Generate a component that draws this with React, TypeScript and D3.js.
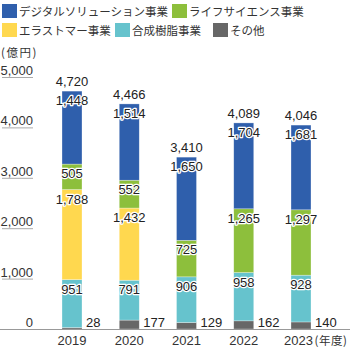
import { useEffect, useRef } from 'react';
import * as d3 from 'd3';

const years = ['2019', '2020', '2021', '2022', '2023'];
const seriesNames = ['その他', '合成樹脂事業', 'エラストマー事業', 'ライフサイエンス事業', 'デジタルソリューション事業'];
const other = [28, 177, 129, 162, 140];
const resin = [951, 791, 906, 958, 928];
const elastomer = [1788, 1432, 0, 0, 0];
const lifeScience = [505, 552, 725, 1265, 1297];
const digital = [1448, 1514, 1650, 1704, 1681];
const totals = [4720, 4466, 3410, 4089, 4046];
const yTicks = [0, 1000, 2000, 3000, 4000, 5000];

const colors = ['#676767', '#66c3cd', '#ffd84f', '#8dbf3c', '#2f5fac'];
const legendOrder = [4, 3, 2, 1, 0];

export default function App() {
  const ref = useRef<SVGSVGElement>(null);

  useEffect(() => {
    if (!ref.current) return;
    const svg = d3.select(ref.current);
    svg.selectAll('*').remove();

    const numFont = '"Liberation Sans", Arial, sans-serif';
    const jpFont = '"Noto Sans CJK JP", sans-serif';

    const x = d3.scalePoint<string>().domain(years).range([72, 301]);
    const y = d3.scaleLinear().domain([0, 5000]).range([329, 77]);
    const barW = 20;

    // legend
    const legendPos = [
      [2, 4], [172, 4], [2, 23], [115, 23], [213, 23],
    ];
    legendOrder.forEach((si, i) => {
      const [lx, ly] = legendPos[i];
      svg.append('rect').attr('x', lx).attr('y', ly).attr('width', 15).attr('height', 14).attr('fill', colors[si]);
      svg
        .append('text')
        .attr('x', lx + 17)
        .attr('y', ly + 11.5)
        .style('font-family', jpFont)
        .style('font-size', '11.5px')
        .style('fill', '#333')
        .text(seriesNames[si]);
    });

    svg
      .append('text')
      .attr('x', 1)
      .attr('y', 57)
      .style('font-family', jpFont)
      .style('font-size', '11.5px')
      .style('letter-spacing', '1.5px')
      .style('fill', '#333')
      .text('(億円)');

    // y ticks
    yTicks.forEach((t) => {
      if (t > 0) {
        svg
          .append('line')
          .attr('x1', 2)
          .attr('x2', 33)
          .attr('y1', y(t) + 0.5)
          .attr('y2', y(t) + 0.5)
          .attr('stroke', '#aaa')
          .attr('stroke-width', 1);
      }
      svg
        .append('text')
        .attr('x', 33)
        .attr('y', y(t) - 2)
        .attr('text-anchor', 'end')
        .style('font-family', numFont)
        .style('font-size', '13px')
        .style('fill', '#333')
        .text(d3.format(',')(t));
    });

    const data = [other, resin, elastomer, lifeScience, digital];
    const stack = d3
      .stack<number>()
      .keys(d3.range(5).map(String))
      .value((i, k) => data[+k][i]);
    const series = stack(d3.range(years.length));

    series.forEach((s, si) => {
      s.forEach((d, i) => {
        const v = data[si][i];
        if (!v) return;
        const cx = x(years[i]) as number;
        svg
          .append('rect')
          .attr('x', cx - barW / 2)
          .attr('y', y(d[1]))
          .attr('width', barW)
          .attr('height', y(d[0]) - y(d[1]))
          .attr('fill', colors[si])
          .attr('stroke', '#fff')
          .attr('stroke-opacity', 0.5)
          .attr('stroke-width', 0.6);
      });
    });

    // axis line
    svg.append('line').attr('x1', 0).attr('x2', 350).attr('y1', y(0) + 0.5).attr('y2', y(0) + 0.5).attr('stroke', '#999');

    // segment labels
    series.forEach((s, si) => {
      s.forEach((d, i) => {
        const v = data[si][i];
        if (!v) return;
        const cx = x(years[i]) as number;
        const isOther = si === 0;
        svg
          .append('text')
          .attr('x', isOther ? cx + barW / 2 + 4 : cx)
          .attr('y', isOther ? y(0) - 2 : y(d[1]) + 14)
          .attr('text-anchor', isOther ? 'start' : 'middle')
          .style('font-family', numFont)
          .style('font-size', '13px')
          .style('fill', '#222')
          .style('stroke', '#fff')
          .style('stroke-width', isOther ? 0 : 2.5)
          .style('paint-order', 'stroke')
          .style('stroke-linejoin', 'round')
          .text(d3.format(',')(v));
      });
    });

    // totals
    years.forEach((yr, i) => {
      svg
        .append('text')
        .attr('x', x(yr) as number)
        .attr('y', y(totals[i]) - 5)
        .attr('text-anchor', 'middle')
        .style('font-family', numFont)
        .style('font-size', '13px')
        .style('fill', '#222')
        .text(d3.format(',')(totals[i]));
    });

    // x labels
    years.forEach((yr, i) => {
      const last = i === years.length - 1;
      svg
        .append('text')
        .attr('x', (x(yr) as number) - (last ? 2.5 : 0))
        .attr('y', 345)
        .attr('text-anchor', 'middle')
        .style('font-family', numFont)
        .style('font-size', '13px')
        .style('fill', '#333')
        .text(yr);
    });
    svg
      .append('text')
      .attr('x', (x(years[years.length - 1]) as number) + 13.5)
      .attr('y', 345)
      .style('font-family', jpFont)
      .style('font-size', '11.5px')
      .style('letter-spacing', '0.5px')
      .style('fill', '#333')
      .text('(年度)');
  }, []);

  return (
    <svg
      ref={ref}
      width={350}
      height={351}
      style={{ position: 'absolute', left: 0, top: 0, background: '#fff' }}
    />
  );
}
